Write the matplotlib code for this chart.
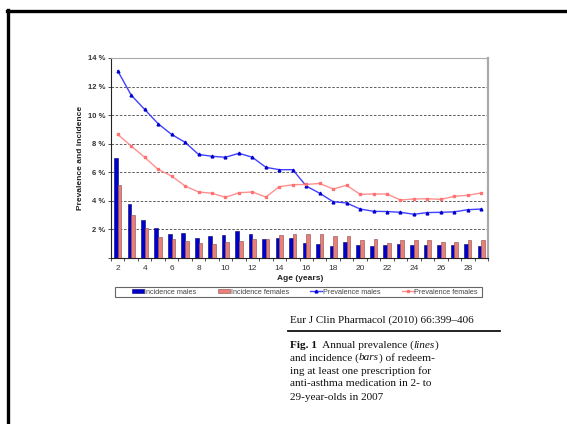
import numpy as np
import matplotlib
matplotlib.use("Agg")
import matplotlib.pyplot as plt
from matplotlib.lines import Line2D
from matplotlib.patches import Patch, Rectangle

plt.rcParams['font.family'] = ['Liberation Sans', 'DejaVu Sans']

ages = list(range(2, 30))

prev_males = [13.1, 11.4, 10.4, 9.4, 8.65, 8.1, 7.25, 7.12, 7.05, 7.33, 7.05, 6.35, 6.18, 6.18,
              5.04, 4.53, 3.94, 3.85, 3.43, 3.27, 3.25, 3.2, 3.06, 3.18, 3.2, 3.23, 3.38, 3.43]
prev_females = [8.65, 7.84, 7.05, 6.2, 5.74, 5.04, 4.62, 4.53, 4.25, 4.57, 4.62, 4.27, 4.99, 5.13,
                5.15, 5.22, 4.83, 5.09, 4.46, 4.48, 4.48, 4.06, 4.13, 4.15, 4.1, 4.32, 4.39, 4.55]
inc_males = [7.0, 3.78, 2.67, 2.13, 1.7, 1.74, 1.42, 1.51, 1.6, 1.88, 1.67, 1.34, 1.42, 1.42,
             1.05, 0.98, 0.84, 1.09, 0.93, 0.84, 0.9, 1.0, 0.88, 0.93, 0.88, 0.88, 0.98, 0.84]
inc_females = [5.11, 3.0, 2.07, 1.47, 1.3, 1.2, 1.07, 0.99, 1.13, 1.22, 1.34, 1.34, 1.6, 1.7,
               1.7, 1.65, 1.56, 1.54, 1.25, 1.3, 1.08, 1.24, 1.24, 1.24, 1.15, 1.13, 1.25, 1.24]

W, H = 567, 424
fig = plt.figure(figsize=(W / 100, H / 100), dpi=100)

def fx(px):
    return px / W

def fy(py):
    return 1 - py / H

ax = fig.add_axes([fx(111), fy(258), fx(488) - fx(111), fy(58) - fy(258)])

x = np.array(ages)
bw = 0.27
ax.bar(x - bw / 2, inc_males, width=bw, color='#0000CC', edgecolor='#000066', linewidth=0.4, zorder=3)
ax.bar(x + bw / 2, inc_females, width=bw, color='#E8807A', edgecolor='#8a4a48', linewidth=0.4, zorder=3)
ax.plot(x, prev_males, color='#4040FF', lw=1.0, marker='^', ms=2.0, mfc='#0000CC', mec='#0000CC', zorder=4)
ax.plot(x, prev_females, color='#FF9090', lw=1.0, marker='s', ms=2.0, mfc='#FF7070', mec='#FF7070', zorder=4)

ax.set_xlim(1.5, 29.5)
ax.set_ylim(0, 14)
yt = list(range(0, 15, 2))
ax.set_yticks(yt)
ax.set_yticklabels([''] + [f'{v} %' for v in yt[1:]], fontsize=5.5, fontweight='bold', color='#333333')
ax.set_xticks(list(range(2, 29, 2)))
ax.set_xticklabels([str(a) for a in range(2, 29, 2)], fontsize=6, color='#333333')
ax.set_xticks(np.arange(1.5, 30, 1), minor=True)
ax.tick_params(axis='x', which='major', length=0, pad=5)
ax.tick_params(axis='x', which='minor', length=2.5, width=0.6, color='#333333')
ax.tick_params(axis='y', length=2.5, width=0.6, pad=1.5, color='#333333')

for v in yt[1:-1]:
    ax.axhline(v, color='#444444', lw=0.6, ls=(0, (3, 2)), zorder=1)

ax.spines['left'].set_color('#222222')
ax.spines['left'].set_linewidth(0.8)
ax.spines['bottom'].set_color('#222222')
ax.spines['bottom'].set_linewidth(0.8)
ax.spines['top'].set_color('#aaaaaa')
ax.spines['top'].set_linewidth(0.8)
ax.spines['right'].set_color('#aaaaaa')
ax.spines['right'].set_linewidth(1.6)

fig.text(fx(80), fy(158), 'Prevalence and incidence', rotation=90, fontsize=6,
         fontweight='bold', ha='center', va='center', color='#222222')
fig.text(fx(300), fy(279), 'Age (years)', fontsize=6, fontweight='bold',
         ha='center', va='center', color='#222222')

# legend: frame drawn separately so the entries can sit where they should
fig.add_artist(Rectangle((fx(115), fy(297)), fx(482) - fx(115), fy(287) - fy(297),
                         transform=fig.transFigure, facecolor='white', edgecolor='#666666', lw=0.8))
handles = [
    Patch(facecolor='#0000CC', edgecolor='#000066', lw=0.4),
    Patch(facecolor='#E8807A', edgecolor='#8a4a48', lw=0.4),
    Line2D([], [], color='#4040FF', lw=1.0, marker='^', ms=2.0, mfc='#0000CC', mec='#0000CC'),
    Line2D([], [], color='#FF9090', lw=1.0, marker='s', ms=2.0, mfc='#FF7070', mec='#FF7070'),
]
labels = ['Incidence males', 'Incidence females', 'Prevalence males', 'Prevalence females']
leg = fig.legend(handles, labels, loc='center left', ncol=4, fontsize=5.2,
                 bbox_to_anchor=(fx(132), fy(292)), frameon=False, borderpad=0,
                 borderaxespad=0, handlelength=1.67, handleheight=0.5,
                 handletextpad=0.05, columnspacing=3.0)
for t in leg.get_texts():
    t.set_color('#444444')

# page frame
fig.add_artist(Line2D([fx(7), 1], [fy(11), fy(11)], color='black', lw=2.4))
fig.add_artist(Line2D([fx(8), fx(8)], [fy(10), 0], color='black', lw=2.4))

serif = ['Liberation Serif', 'DejaVu Serif']
fig.text(fx(290), fy(320), 'Eur J Clin Pharmacol (2010) 66:399\u2013406', fontsize=8,
         family=serif, va='center', ha='left', color='#111111')
fig.add_artist(Line2D([fx(288), fx(500)], [fy(331), fy(331)], color='#111111', lw=1.3))

renderer = fig.canvas.get_renderer()

def draw_runs(x0, y0, parts, size=8.1):
    xpos = fx(x0)
    for s, weight, style in parts:
        t = fig.text(xpos, fy(y0), s, fontsize=size, family=serif, fontweight=weight,
                     fontstyle=style, va='center', ha='left', color='#111111')
        xpos += t.get_window_extent(renderer).width / W

caption = [
    [('Fig. 1', 'bold', 'normal'), ('  Annual prevalence (', 'normal', 'normal'),
     ('lines', 'normal', 'italic'), (')', 'normal', 'normal')],
    [('and incidence (', 'normal', 'normal'), ('bars', 'normal', 'italic'),
     (') of redeem-', 'normal', 'normal')],
    [('ing at least one prescription for', 'normal', 'normal')],
    [('anti-asthma medication in 2- to', 'normal', 'normal')],
    [('29-year-olds in 2007', 'normal', 'normal')],
]
for i, line in enumerate(caption):
    draw_runs(290, 345 + 13 * i, line)

fig.savefig('out.png', dpi=100)
